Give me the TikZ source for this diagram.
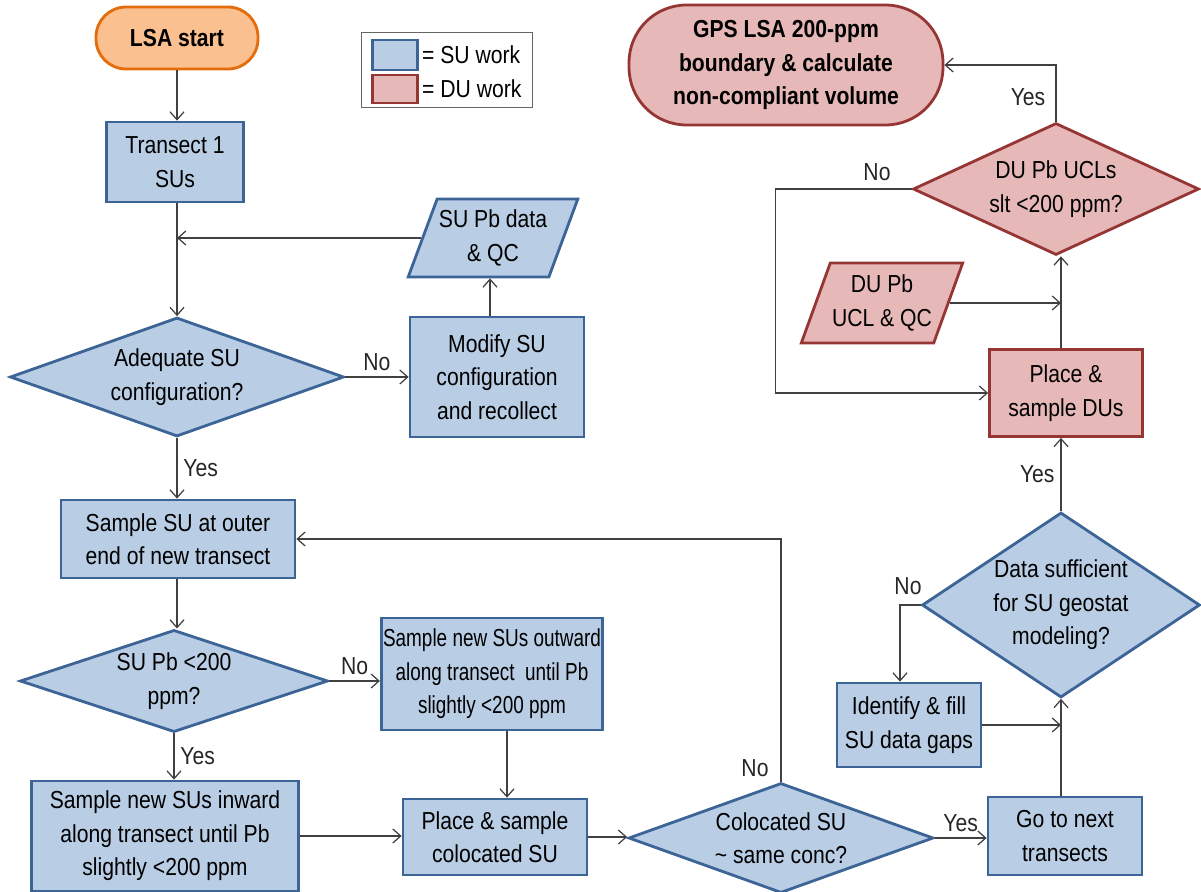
\documentclass[tikz,border=0pt]{standalone}
\usepackage{fontspec}
\setmainfont{Liberation Sans}[FakeStretch=0.86]
\usetikzlibrary{positioning,shapes.geometric,arrows.meta}
\definecolor{sufill}{HTML}{B9CDE5}
\definecolor{suline}{HTML}{3C6496}
\definecolor{dufill}{HTML}{E6B9B8}
\definecolor{duline}{HTML}{963634}
\definecolor{startfill}{HTML}{FAC090}
\definecolor{startline}{HTML}{E46C0A}
\definecolor{flowline}{HTML}{404040}

\begin{document}
\begin{tikzpicture}[x=0.02cm,y=-0.02cm,
	font=\fontsize{14}{19}\selectfont,
	su/.style={draw=suline,fill=sufill,line width=1.6pt,align=center,inner sep=1pt},
	du/.style={draw=duline,fill=dufill,line width=1.6pt,align=center,inner sep=1pt},
	query/.style={diamond,aspect=2.5,inner sep=0pt},
	datain/.style={trapezium,trapezium left angle=64,trapezium right angle=116,trapezium stretches body,inner sep=1pt},
	flow/.style={draw=flowline,line width=0.7pt,-{Straight Barb[length=4.5pt,width=8pt]}},
	lbl/.style={text=black!85}]
	\useasboundingbox (0,0) rectangle (1201,892);
	
	% start and legend
	\node[draw=startline,fill=startfill,line width=1.6pt,rounded corners=0.6cm,minimum width=3.24cm,minimum height=1.24cm,font=\fontsize{14}{19}\selectfont\bfseries] (start) at (177,38) {LSA start};
	\node[draw=black!60,line width=0.8pt,minimum width=3.42cm,minimum height=1.5cm] (legend) at (447,70) {};
	\node[su,minimum width=0.9cm,minimum height=0.6cm] (sukey) at (395,55) {};
	\node[du,minimum width=0.9cm,minimum height=0.56cm] (dukey) at (395,89) {};
	\node[anchor=west,inner sep=1pt] (sutxt) at (420,55) {= SU work};
	\node[anchor=west,inner sep=1pt] (dutxt) at (420,89) {= DU work};
	
	% SU work, left side
	\node[su,minimum width=2.74cm,minimum height=1.6cm] (tran1) at (175,162) {Transect 1\\SUs};
	\node[su,datain,minimum width=3.04cm,minimum height=1.56cm] (supbdata) at (493,238) {SU Pb data\\\& QC};
	\node[su,query,minimum width=6.68cm,minimum height=2.38cm] (adequate) at (177,377) {Adequate SU\\configuration?};
	\node[su,minimum width=3.48cm,minimum height=2.4cm] (modify) at (497,377) {Modify SU\\configuration\\and recollect};
	\node[su,minimum width=4.68cm,minimum height=1.56cm] (outer) at (178,539) {Sample SU at outer\\end of new transect};
	\node[su,query,minimum width=6.16cm,minimum height=1.94cm] (supb200) at (174,681) {SU Pb <200\\ppm?};
	\node[su,minimum width=4.3cm,minimum height=2.24cm,font=\fontsize{14}{19}\selectfont\addfontfeatures{FakeStretch=0.77}] (outward) at (492,674) {Sample new SUs outward\\along transect\ \ until Pb\\slightly <200 ppm};
	\node[su,minimum width=5.34cm,minimum height=2.2cm] (inward) at (165,836) {Sample new SUs inward\\along transect until Pb\\slightly <200 ppm};
	\node[su,minimum width=3.68cm,minimum height=1.52cm] (placesu) at (495,837) {Place \& sample\\colocated SU};
	\node[su,query,minimum width=6.1cm,minimum height=2.2cm] (coloc) at (781,838) {Colocated SU\\\textasciitilde\ same conc?};
	
	% right side
	\node[su,minimum width=3.08cm,minimum height=1.56cm] (gonext) at (1065,836) {Go to next\\transects};
	\node[su,minimum width=2.88cm,minimum height=1.68cm] (identify) at (909,725) {Identify \& fill\\SU data gaps};
	\node[su,query,aspect=1.5,minimum width=5.56cm,minimum height=3.7cm] (datasuff) at (1061,605) {Data sufficient\\for SU geostat\\modeling?};
	\node[du,minimum width=3.06cm,minimum height=1.74cm] (placedu) at (1066,393) {Place \&\\sample DUs};
	\node[du,datain,minimum width=2.9cm,minimum height=1.6cm] (dupbdata) at (882,303) {DU Pb\\UCL \& QC};
	\node[du,query,minimum width=5.72cm,minimum height=2.64cm] (ducl) at (1056,189) {DU Pb UCLs\\slt <200 ppm?};
	\node[du,rounded corners=1.15cm,minimum width=6.28cm,minimum height=2.4cm,font=\fontsize{14}{19}\selectfont\bfseries] (gps) at (786,65) {GPS LSA 200-ppm\\boundary \& calculate\\non-compliant volume};
	
	% connectors
	\draw[flow] (start) -- (start.south |- tran1.north);
	\draw[flow] (start.south |- tran1.south) -- (start.south |- adequate.north);
	\draw[flow] (supbdata.west) -- (supbdata.west -| start.south);
	\draw[flow] ([xshift=-0.14cm]modify.north) -- ([xshift=-0.14cm]modify.north |- supbdata.south);
	\draw[flow] (adequate.east) -- node[lbl,above] {No} (modify.west);
	\draw[flow] (adequate.south) -- node[lbl,right] {Yes} (adequate.south |- outer.north);
	\draw[flow] (adequate.south |- outer.south) -- (adequate.south |- supb200.north);
	\draw[flow] (supb200.east) -- node[lbl,above] {No} (supb200.east -| outward.west);
	\draw[flow] (supb200.south) -- node[lbl,right] {Yes} (supb200.south |- inward.north);
	\draw[flow] ([xshift=0.3cm]outward.south) -- ([xshift=0.3cm]outward.south |- placesu.north);
	\draw[flow] (inward.east) -- (inward.east -| placesu.west);
	\draw[flow] (placesu.east) -- (placesu.east -| coloc.west);
	\draw[flow] (coloc.north) |- (outer.east);
	\node[lbl] (nocoloc) at (755,768) {No};
	\draw[flow] (coloc.east) -- node[lbl,above] {Yes} (coloc.east -| gonext.west);
	\draw[flow] (datasuff.south |- gonext.north) -- (datasuff.south);
	\draw[flow] (identify.east) -- (identify.east -| datasuff.south);
	\draw[flow] (datasuff.west) -| ([xshift=-0.18cm]identify.north);
	\node[lbl] (nodata) at (908,586) {No};
	\draw[flow] (datasuff.north) -- node[lbl,left] {Yes} (datasuff.north |- placedu.south);
	\draw[flow] (dupbdata.east) -- (dupbdata.east -| datasuff.north);
	\draw[flow] (datasuff.north |- placedu.north) -- (datasuff.north |- ducl.south);
	\draw[flow] (ducl.west) -- ++(-136,0) coordinate (ducorner) |- (placedu.west);
	\node[lbl] (noducl) at (877,172) {No};
	\draw[flow] (ducl.north) |- (gps.east);
	\node[lbl] (yesducl) at (1028,97) {Yes};
\end{tikzpicture}
\end{document}
